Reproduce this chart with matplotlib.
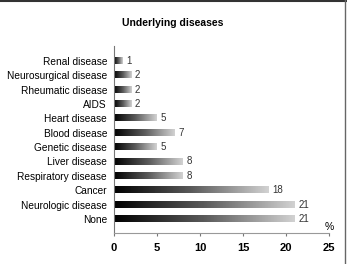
import numpy as np
import matplotlib.pyplot as plt
from matplotlib.colors import LinearSegmentedColormap

plt.rcParams['font.family'] = ['Liberation Sans', 'DejaVu Sans']

# data, top to bottom as shown in the chart
diseases = ["Renal disease", "Neurosurgical disease", "Rheumatic disease", "AIDS",
            "Heart disease", "Blood disease", "Genetic disease", "Liver disease",
            "Respiratory disease", "Cancer", "Neurologic disease", "None"]
percent = [1, 2, 2, 2, 5, 7, 5, 8, 8, 18, 21, 21]
xticks = [0, 5, 10, 15, 20, 25]

fig = plt.figure(figsize=(3.47, 2.64), dpi=100)
ax = fig.add_axes([0.3285, 0.1174, 0.6195, 0.7086])

cmap = LinearSegmentedColormap.from_list("bar", ["#000000", "#5a5a5a", "#d2d2d2"])
grad = np.linspace(0, 1, 256).reshape(1, -1)

n = len(diseases)
ypos = np.arange(n)[::-1]
h = 0.42
for y, v in zip(ypos, percent):
    ax.imshow(grad, cmap=cmap, aspect="auto", extent=(0, v, y - h / 2, y + h / 2),
              interpolation="bilinear")
    ax.text(v + 0.45, y, str(v), va="center", ha="left", fontsize=7, color="#333333")

ax.set_xlim(0, 25)
ax.set_ylim(-0.975, 12.04)
ax.set_yticks(ypos)
ax.set_yticklabels(diseases, fontsize=7.3)
ax.set_xticks(xticks)
ax.set_xticklabels([str(t) for t in xticks], fontsize=8, fontweight="bold")
ax.tick_params(axis="y", length=0, pad=5)
ax.tick_params(axis="x", length=2, color="#777777", pad=5)

for s in ["top", "right"]:
    ax.spines[s].set_visible(False)
ax.spines["left"].set_color("#777777")
ax.spines["left"].set_linewidth(0.8)
ax.spines["bottom"].set_color("#999999")
ax.spines["bottom"].set_linewidth(0.8)

ax.text(25, -0.55, "%", ha="center", va="center", fontsize=7.5)

fig.text(0.497, 0.912, "Underlying diseases", ha="center", va="center",
         fontsize=7.5, fontweight="bold")

# frame lines on top and right side of the picture
fig.add_artist(plt.Line2D([0, 1], [0.998, 0.998], color="#333333", lw=1.5,
                          transform=fig.transFigure))
fig.add_artist(plt.Line2D([0.995, 0.995], [0, 1], color="#666666", lw=1.0,
                          transform=fig.transFigure))

fig.savefig("out.png", dpi=100)
